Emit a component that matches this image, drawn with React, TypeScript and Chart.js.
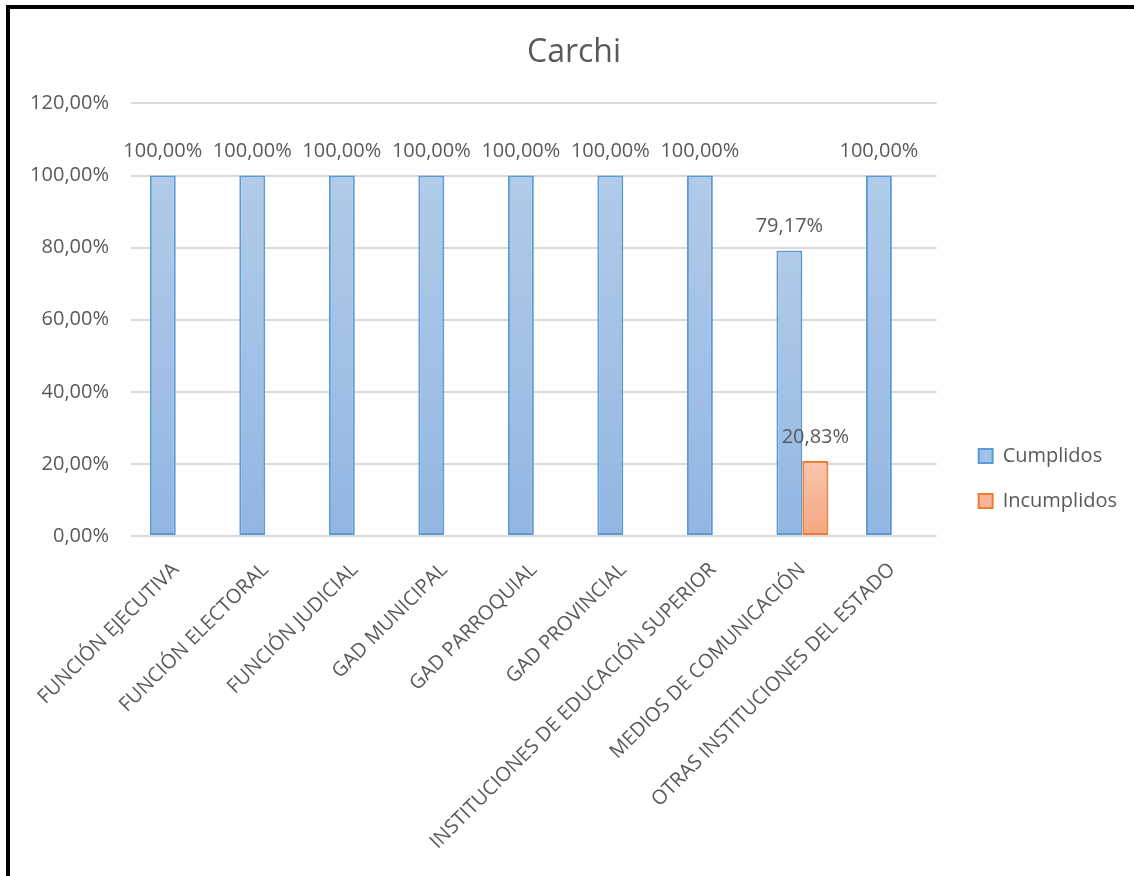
import React, { useEffect, useRef } from "react";
import { Chart, registerables } from "chart.js";

Chart.register(...registerables);

const title = "Carchi";
const categories = [
  "FUNCIÓN EJECUTIVA",
  "FUNCIÓN ELECTORAL",
  "FUNCIÓN JUDICIAL",
  "GAD MUNICIPAL",
  "GAD PARROQUIAL",
  "GAD PROVINCIAL",
  "INSTITUCIONES DE EDUCACIÓN SUPERIOR",
  "MEDIOS DE COMUNICACIÓN",
  "OTRAS INSTITUCIONES DEL ESTADO",
];
const seriesNames = ["Cumplidos", "Incumplidos"];
const cumplidos = [100, 100, 100, 100, 100, 100, 100, 79.17, 100];
const incumplidos = [0, 0, 0, 0, 0, 0, 0, 20.83, 0];
const yTicks = [0, 20, 40, 60, 80, 100, 120];

const FONT = "'Open Sans', 'Liberation Sans', sans-serif";
const TEXT = "#595959";
const borderColors = ["#5b9bd5", "#ed7d31"];
const legendFills = ["#a3c1e6", "#f6b697"];

const fmt = (v: number) => v.toFixed(2).replace(".", ",") + "%";

function gradientFill(top: string, bottom: string, solid: string) {
  return (ctx: any) => {
    if (ctx.type !== "data") return solid;
    const chart = ctx.chart;
    const ys = chart.scales && chart.scales.y;
    if (!chart.chartArea || !ys) return solid;
    const v = ctx.raw as number;
    const t = ys.getPixelForValue(v);
    const b = ys.getPixelForValue(0);
    if (!isFinite(t) || !isFinite(b) || b - t < 1) return solid;
    const g = chart.ctx.createLinearGradient(0, t, 0, b);
    g.addColorStop(0, top);
    g.addColorStop(1, bottom);
    return g;
  };
}

const borderW = (c: any) => (c.type !== "data" ? 2 : c.raw ? 2 : 0);

const labelPlugin = {
  id: "valueLabels",
  afterDatasetsDraw(chart: any) {
    const ctx = chart.ctx;
    ctx.save();
    ctx.font = `20px ${FONT}`;
    ctx.fillStyle = TEXT;
    ctx.textAlign = "center";
    ctx.textBaseline = "middle";
    chart.data.datasets.forEach((ds: any, di: number) => {
      const meta = chart.getDatasetMeta(di);
      meta.data.forEach((bar: any, i: number) => {
        const v = ds.data[i];
        if (!v) return;
        ctx.fillText(fmt(v), bar.x, bar.y - 24);
      });
    });
    ctx.restore();
  },
};

export default function App() {
  const ref = useRef<HTMLCanvasElement>(null);
  useEffect(() => {
    if (!ref.current) return;
    const chart = new Chart(ref.current, {
      type: "bar",
      data: {
        labels: categories,
        datasets: [
          {
            label: seriesNames[0],
            data: cumplidos,
            backgroundColor: gradientFill("#b1cbe9", "#92b6e2", legendFills[0]),
            borderColor: borderColors[0],
            borderWidth: borderW,
            borderSkipped: false,
            categoryPercentage: 0.58,
            barPercentage: 1,
          },
          {
            label: seriesNames[1],
            data: incumplidos,
            backgroundColor: gradientFill("#f8c6ad", "#f4a580", legendFills[1]),
            borderColor: borderColors[1],
            borderWidth: borderW,
            borderSkipped: false,
            categoryPercentage: 0.58,
            barPercentage: 1,
          },
        ],
      },
      options: {
        animation: false,
        responsive: false,
        maintainAspectRatio: false,
        layout: { padding: { left: 21, top: 0, right: 7, bottom: 0 } },
        plugins: {
          title: {
            display: true,
            text: title,
            color: TEXT,
            font: { family: FONT, size: 32, weight: "normal" },
            padding: { top: 34, bottom: 31 },
          },
          legend: {
            display: true,
            position: "right",
            align: "end",
            fullSize: false,
            labels: {
              color: TEXT,
              font: { family: FONT, size: 20 },
              boxWidth: 14,
              boxHeight: 14,
              padding: 25,
              generateLabels: (ch: any) =>
                ch.data.datasets.map((ds: any, i: number) => ({
                  text: ds.label,
                  fillStyle: legendFills[i],
                  strokeStyle: borderColors[i],
                  lineWidth: 2,
                  fontColor: TEXT,
                  hidden: !ch.isDatasetVisible(i),
                  datasetIndex: i,
                })),
            },
          },
          tooltip: { enabled: false },
        },
        scales: {
          x: {
            grid: { display: false, drawTicks: false },
            border: { display: false },
            ticks: {
              color: TEXT,
              font: { family: FONT, size: 20 },
              minRotation: 45,
              maxRotation: 45,
              autoSkip: false,
              padding: 22,
            },
            afterFit: (s: any) => {
              s.height = 340;
            },
          },
          y: {
            min: 0,
            max: 120,
            afterBuildTicks: (s: any) => {
              s.ticks = yTicks.map((v) => ({ value: v }));
            },
            grid: { color: "#d9d9d9", lineWidth: 2, drawTicks: false },
            border: { display: false },
            ticks: {
              color: TEXT,
              font: { family: FONT, size: 20 },
              padding: 22,
              callback: (v: any) => fmt(Number(v)),
            },
            afterFit: (s: any) => {
              s.width = 110;
            },
          },
          gap: {
            type: "linear",
            position: "right",
            display: true,
            grid: { display: false, drawTicks: false },
            border: { display: false },
            ticks: { display: false },
            afterFit: (s: any) => {
              s.width = 17;
            },
          },
        },
      },
      plugins: [labelPlugin],
    } as any);
    return () => chart.destroy();
  }, []);

  return (
    <div style={{ position: "absolute", left: 0, top: 0, width: 1134, height: 876, background: "#fff", overflow: "hidden" }}>
      <canvas ref={ref} width={1134} height={876} style={{ position: "absolute", left: 0, top: 0, display: "block" }} />
      <div
        style={{
          position: "absolute",
          left: 6,
          top: 5,
          width: 1134,
          height: 876,
          borderTop: "4px solid #000",
          borderLeft: "4px solid #000",
          pointerEvents: "none",
        }}
      />
    </div>
  );
}
